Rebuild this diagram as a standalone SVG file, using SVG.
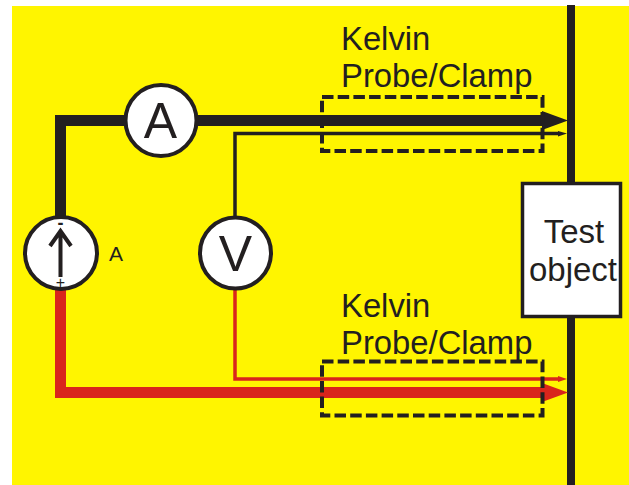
<svg xmlns="http://www.w3.org/2000/svg" width="629" height="485" viewBox="0 0 629 485">
<style>
text{font-family:"Liberation Sans",Arial,sans-serif;fill:#231f20}
.k{font-size:32.800px}
.m{font-size:50px;text-anchor:middle}
.t{font-size:33px;text-anchor:middle}
.w{fill:none;stroke-linejoin:miter}
.blk{stroke:#231f20}
.red{stroke:#d9251c}
.meter{fill:#fff;stroke:#231f20;stroke-width:4}
.dash{fill:none;stroke:#231f20;stroke-width:4;stroke-dasharray:11.500 4.200}
</style>
<rect width="629" height="485" fill="#fff"/>
<rect id="background" x="12" y="6" width="617" height="479" fill="#fff500"/>
<g id="connectors">
<path class="w blk" stroke-width="8" d="M571 5V485"/>
<path class="w blk" stroke-width="11" d="M60.500 220V120.500H545"/>
<path fill="#231f20" d="M542 111L568 120.500L542 130Z"/>
<path class="w blk" stroke-width="3.500" d="M235 220V133.500H559"/>
<path fill="#231f20" d="M558 131L567 133.500L558 136.500Z"/>
<path class="w red" stroke-width="11" d="M60.500 285V392.500H545"/>
<path fill="#d9251c" d="M542 383L568 392.500L542 402Z"/>
<path class="w red" stroke-width="3.500" d="M235 285V379H559"/>
<path fill="#d9251c" d="M558 376L567 379L558 382Z"/>
</g>
<g id="probe-top">
<rect class="dash" x="322" y="97" width="220.500" height="54"/>
<text class="k" x="341" y="50">Kelvin</text>
<text class="k" x="341" y="87">Probe/Clamp</text>
</g>
<g id="probe-bottom">
<rect class="dash" x="322" y="361.500" width="220.500" height="54"/>
<text class="k" x="341" y="317">Kelvin</text>
<text class="k" x="341" y="354">Probe/Clamp</text>
</g>
<g id="ammeter">
<circle class="meter" cx="161" cy="120.500" r="35.500"/>
<text class="m" x="160.500" y="138">A</text>
</g>
<g id="voltmeter">
<circle class="meter" cx="235.500" cy="253" r="35.500"/>
<text class="m" x="235.500" y="271">V</text>
</g>
<g id="source">
<circle class="meter" cx="61" cy="253" r="36"/>
<path fill="none" stroke="#231f20" stroke-width="4" d="M60.500 277V231M50 246L60.500 231L71 246"/>
<text x="60.500" y="229" font-size="18" font-weight="bold" text-anchor="middle">-</text>
<text x="60.500" y="288" font-size="16" text-anchor="middle">+</text>
<text x="109" y="261" font-size="21">A</text>
</g>
<g id="test-object">
<rect x="522.500" y="183.500" width="98" height="133" fill="#fff" stroke="#231f20" stroke-width="3.500"/>
<text class="t" x="574" y="243">Test</text>
<text class="t" x="573" y="281">object</text>
</g>
</svg>
